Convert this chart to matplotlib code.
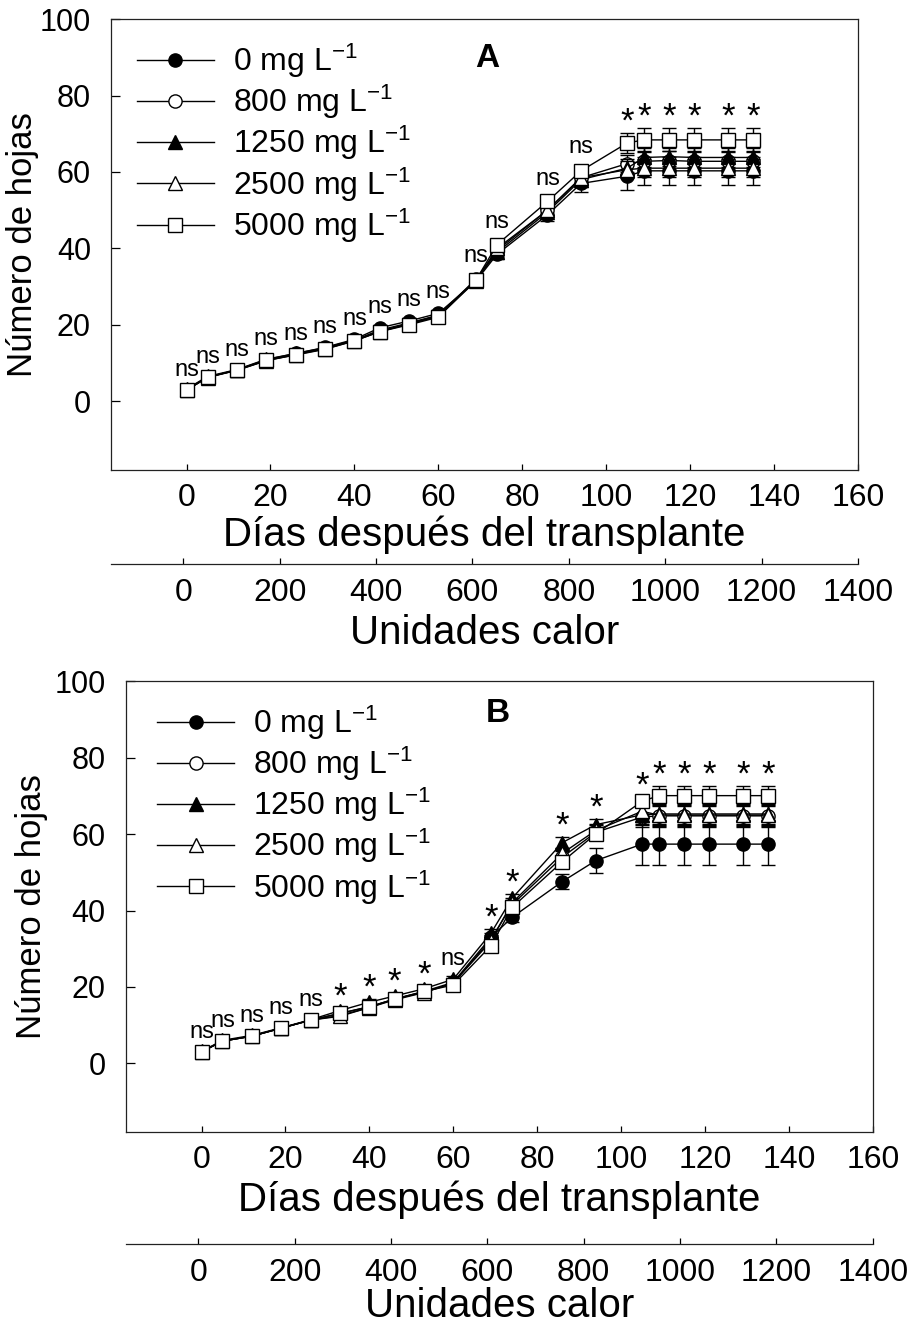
import matplotlib
matplotlib.use("Agg")
import matplotlib.pyplot as plt
import numpy as np

plt.rcParams["font.family"] = ["Liberation Sans", "DejaVu Sans"]
plt.rcParams["mathtext.fontset"] = "custom"
plt.rcParams["mathtext.rm"] = "Liberation Sans"
plt.rcParams["mathtext.default"] = "rm"

# ── Data ───────────────────────────────────────────────────
days = [0, 5, 12, 19, 26, 33, 40, 46, 53, 60, 69, 74, 86, 94,
        105, 109, 115, 121, 129, 135]
day_ticks = list(range(0, 161, 20))
heat_ticks = list(range(0, 1401, 200))
y_ticks = list(range(0, 101, 20))
doses = ["0", "800", "1250", "2500", "5000"]

# Panel A
a_0 = [3.0, 6.3, 8.2, 10.9, 12.5, 14.1, 16.2, 19.2, 21.0, 23.0,
       31.5, 38.5, 48.8, 57.0, 58.9, 60.3, 60.3, 60.3, 60.3, 60.3]
a_800 = [3.0, 6.3, 8.2, 10.7, 12.3, 13.8, 15.9, 18.3, 20.3, 22.5,
         32.0, 39.5, 50.0, 58.5, 62.2, 62.8, 63.0, 62.8, 62.8, 62.8]
a_1250 = [3.2, 6.5, 8.3, 11.0, 12.5, 14.0, 16.0, 18.6, 20.5, 22.5,
          31.8, 39.0, 49.5, 58.0, 61.0, 63.8, 64.0, 63.8, 63.8, 63.8]
a_2500 = [2.9, 6.2, 8.1, 10.6, 12.2, 13.7, 15.8, 18.2, 20.2, 22.2,
          31.5, 40.0, 50.0, 58.5, 60.6, 61.0, 61.0, 61.0, 61.0, 61.0]
a_5000 = [2.9, 6.3, 8.1, 10.7, 12.1, 13.6, 15.8, 18.2, 20.0, 22.0,
          31.8, 41.0, 52.3, 60.3, 67.6, 68.4, 68.4, 68.4, 68.4, 68.4]
a_err_0 = [0.5, 0.5, 0.6, 0.6, 0.6, 0.7, 0.7, 0.8, 0.8, 0.9,
           1.5, 1.2, 1.6, 2.3, 3.5, 3.6, 3.6, 3.6, 3.6, 3.6]
a_err_800 = [0.5, 0.5, 0.5, 0.6, 0.6, 0.6, 0.7, 0.7, 0.8, 0.8,
             1.4, 1.2, 1.3, 1.8, 2.3, 2.4, 2.4, 2.4, 2.4, 2.4]
a_err_1250 = [0.5, 0.5, 0.5, 0.6, 0.6, 0.6, 0.7, 0.7, 0.8, 0.8,
              1.4, 1.2, 1.3, 1.8, 2.3, 2.4, 2.4, 2.4, 2.4, 2.4]
a_err_2500 = [0.5, 0.5, 0.5, 0.6, 0.6, 0.6, 0.7, 0.7, 0.8, 0.8,
              1.4, 1.2, 1.3, 1.8, 2.3, 2.4, 2.4, 2.4, 2.4, 2.4]
a_err_5000 = [0.5, 0.5, 0.5, 0.6, 0.6, 0.6, 0.7, 0.7, 0.8, 0.8,
              1.4, 1.3, 1.4, 1.6, 2.6, 3.0, 3.0, 3.0, 3.0, 3.0]
a_sig = ["ns"] * 14 + ["*"] * 6

# Panel B
b_0 = [3.0, 5.8, 7.1, 9.2, 11.3, 13.0, 14.8, 16.8, 18.8, 21.2,
       33.0, 38.2, 47.6, 53.1, 57.4, 57.4, 57.4, 57.4, 57.4, 57.4]
b_800 = [3.0, 5.8, 7.1, 9.2, 11.3, 12.5, 14.6, 16.8, 18.6, 21.0,
         32.5, 41.5, 54.0, 60.5, 64.5, 64.8, 64.8, 64.8, 64.8, 64.8]
b_1250 = [3.1, 6.0, 7.3, 9.3, 11.4, 13.8, 16.0, 17.6, 19.5, 22.0,
          34.1, 43.2, 57.8, 62.5, 65.1, 65.3, 65.3, 65.3, 65.3, 65.3]
b_2500 = [3.0, 5.8, 7.1, 9.2, 11.3, 12.3, 14.6, 16.6, 18.5, 21.0,
          32.0, 42.0, 55.0, 61.0, 66.0, 65.0, 65.0, 65.0, 65.0, 65.0]
b_5000 = [3.0, 5.8, 7.1, 9.2, 11.3, 13.1, 14.8, 16.8, 18.8, 20.5,
          30.8, 40.8, 52.8, 60.1, 68.6, 70.1, 70.1, 70.1, 70.1, 70.1]
b_err_0 = [0.5, 0.5, 0.6, 0.6, 0.6, 0.7, 0.7, 0.8, 0.8, 0.9,
           1.2, 1.3, 2.0, 3.2, 5.4, 5.4, 5.4, 5.4, 5.4, 5.4]
b_err_800 = [0.5, 0.5, 0.5, 0.6, 0.6, 0.6, 0.7, 0.7, 0.8, 0.8,
             1.0, 1.2, 1.5, 1.8, 2.7, 2.8, 2.8, 2.8, 2.8, 2.8]
b_err_1250 = [0.5, 0.5, 0.5, 0.6, 0.6, 0.7, 0.7, 0.8, 0.8, 0.8,
              1.0, 1.2, 1.5, 1.5, 2.7, 2.8, 2.8, 2.8, 2.8, 2.8]
b_err_2500 = [0.5, 0.5, 0.5, 0.6, 0.6, 0.6, 0.7, 0.7, 0.8, 0.8,
              1.0, 1.2, 1.5, 1.8, 2.7, 2.8, 2.8, 2.8, 2.8, 2.8]
b_err_5000 = [0.5, 0.5, 0.5, 0.6, 0.6, 0.6, 0.7, 0.7, 0.8, 0.8,
              1.0, 1.2, 1.4, 1.5, 1.2, 2.6, 2.6, 2.6, 2.6, 2.6]
b_sig = ["ns"] * 5 + ["*"] * 4 + ["ns"] + ["*"] * 10

# ── Styles ──────────────────────────────────────────────────
markers = ["o", "o", "^", "^", "s"]
faces = ["black", "white", "black", "white", "white"]
msizes = [9.5, 9.5, 10.5, 10.5, 9.5]


def draw_panel(ax, means, errs, sig, letter, leg_anchor):
    for i, (m, e) in enumerate(zip(means, errs)):
        ax.errorbar(days, m, yerr=e, fmt="none", ecolor="black",
                    elinewidth=1.0, capsize=5, capthick=1.0, zorder=2 + i)
        ax.plot(days, m, marker=markers[i], mfc=faces[i], mec="black",
                mew=1.0, ms=msizes[i], color="black", lw=1.0,
                label=f"{doses[i]} mg L$^{{-1}}$", zorder=2 + i)

    # significance marks above highest error bar
    top = np.max(np.array(means) + np.array(errs), axis=0)
    for d, t, s in zip(days, top, sig):
        if s == "ns":
            ax.text(d, t + 3.0, s, ha="center", va="baseline", fontsize=17)
        else:
            ax.text(d, t + 0.4, s, ha="center", va="baseline", fontsize=25)

    ax.set_xlim(-18, 160)
    ax.set_ylim(-18, 100)
    ax.set_xticks(day_ticks)
    ax.set_yticks(y_ticks)
    ax.tick_params(axis="x", direction="in", length=4.5, width=0.9,
                   labelsize=23, pad=9.5)
    ax.tick_params(axis="y", direction="in", length=6.5, width=0.9,
                   labelsize=22, pad=14.5)
    for sp in ax.spines.values():
        sp.set_linewidth(0.9)
        sp.set_color("#222222")

    ax.text(leg_anchor[2], leg_anchor[3], letter, transform=ax.transAxes,
            ha="center", va="center", fontsize=24, fontweight="bold")

    ax.legend(loc="upper left", bbox_to_anchor=(leg_anchor[0], leg_anchor[1]),
              frameon=False, fontsize=23, handlelength=2.4,
              handletextpad=0.6, labelspacing=0.09, borderpad=0,
              borderaxespad=0)


fig = plt.figure(figsize=(9.13, 13.30), dpi=100)
fig.patch.set_facecolor("white")

panels = [
    dict(rect=[0.1216, 0.6466, 0.8182, 0.339], means=[a_0, a_800, a_1250, a_2500, a_5000],
         errs=[a_err_0, a_err_800, a_err_1250, a_err_2500, a_err_5000], sig=a_sig,
         letter="A", anchor=(0.035, 0.95, 0.503, 0.913), outward=68,
         ylab=(-0.118, 0.5), dlab=-0.144, hlab=-0.361),
    dict(rect=[0.138, 0.1489, 0.818, 0.3387], means=[b_0, b_800, b_1250, b_2500, b_5000],
         errs=[b_err_0, b_err_800, b_err_1250, b_err_2500, b_err_5000], sig=b_sig,
         letter="B", anchor=(0.042, 0.951, 0.498, 0.928), outward=81,
         ylab=(-0.126, 0.5), dlab=-0.151, hlab=-0.386),
]

for p in panels:
    ax = fig.add_axes(p["rect"])
    draw_panel(ax, p["means"], p["errs"], p["sig"], p["letter"], p["anchor"])
    ax.set_ylabel("Número de hojas", fontsize=25, va="center")
    ax.yaxis.set_label_coords(*p["ylab"])
    ax.set_xlabel("Días después del transplante", fontsize=29, va="center")
    ax.xaxis.set_label_coords(0.5, p["dlab"])

    # secondary axis: heat units
    ax2 = ax.twiny()
    ax2.set_xlim(-150, 1400)
    ax2.set_xticks(heat_ticks)
    ax2.xaxis.set_ticks_position("bottom")
    ax2.xaxis.set_label_position("bottom")
    ax2.spines["bottom"].set_position(("outward", p["outward"]))
    for side in ["top", "left", "right"]:
        ax2.spines[side].set_visible(False)
    ax2.spines["bottom"].set_linewidth(0.9)
    ax2.spines["bottom"].set_color("#222222")
    ax2.tick_params(axis="x", direction="in", length=4, width=0.9,
                    labelsize=23, pad=9.5)
    ax2.set_xlabel("Unidades calor", fontsize=29, va="center")
    ax2.xaxis.set_label_coords(0.5, p["hlab"])

fig.savefig("out.png", dpi=100, facecolor="white")
